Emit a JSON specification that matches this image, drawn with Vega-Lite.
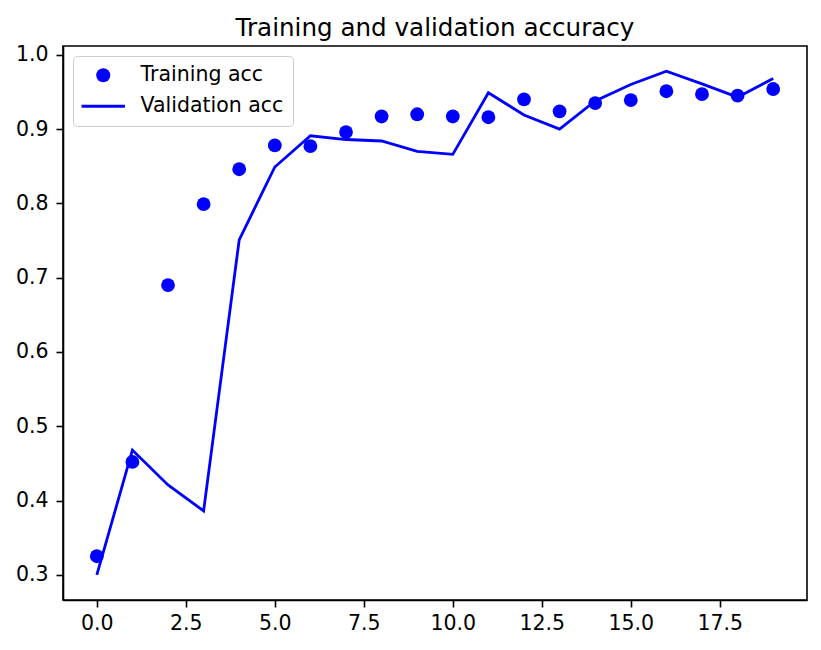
{
  "$schema": "https://vega.github.io/schema/vega-lite/v6.json",
  "width": 744,
  "height": 554,
  "autosize": {"type": "none"},
  "padding": {"left": 63, "top": 46, "right": 14, "bottom": 50},
  "background": "white",
  "title": {
    "text": "Training and validation accuracy",
    "anchor": "middle",
    "frame": "group",
    "font": "DejaVu Sans",
    "fontSize": 24.6,
    "fontWeight": "normal",
    "color": "black",
    "offset": 3
  },
  "config": {
    "view": {"stroke": "black", "strokeWidth": 1.6},
    "axis": {
      "labelFont": "DejaVu Sans",
      "labelFontSize": 20.5,
      "labelColor": "black",
      "tickColor": "black",
      "tickSize": 7,
      "tickWidth": 1.6,
      "domainColor": "black",
      "domainWidth": 1.6,
      "grid": false,
      "labelPadding": 5,
      "title": null
    }
  },
  "data": {
    "values": [
      {"epoch": 0, "acc": 0.325, "val_acc": 0.300},
      {"epoch": 1, "acc": 0.452, "val_acc": 0.468},
      {"epoch": 2, "acc": 0.690, "val_acc": 0.421},
      {"epoch": 3, "acc": 0.799, "val_acc": 0.386},
      {"epoch": 4, "acc": 0.846, "val_acc": 0.751},
      {"epoch": 5, "acc": 0.878, "val_acc": 0.849},
      {"epoch": 6, "acc": 0.877, "val_acc": 0.891},
      {"epoch": 7, "acc": 0.896, "val_acc": 0.886},
      {"epoch": 8, "acc": 0.917, "val_acc": 0.884},
      {"epoch": 9, "acc": 0.920, "val_acc": 0.870},
      {"epoch": 10, "acc": 0.917, "val_acc": 0.866},
      {"epoch": 11, "acc": 0.916, "val_acc": 0.949},
      {"epoch": 12, "acc": 0.940, "val_acc": 0.919},
      {"epoch": 13, "acc": 0.924, "val_acc": 0.900},
      {"epoch": 14, "acc": 0.935, "val_acc": 0.938},
      {"epoch": 15, "acc": 0.939, "val_acc": 0.960},
      {"epoch": 16, "acc": 0.951, "val_acc": 0.978},
      {"epoch": 17, "acc": 0.947, "val_acc": 0.961},
      {"epoch": 18, "acc": 0.945, "val_acc": 0.943},
      {"epoch": 19, "acc": 0.954, "val_acc": 0.968}
    ]
  },
  "encoding": {
    "x": {
      "field": "epoch",
      "type": "quantitative",
      "scale": {"domain": [-0.95, 19.95], "nice": false, "zero": false},
      "axis": {"values": [0, 2.5, 5, 7.5, 10, 12.5, 15, 17.5], "format": ".1f", "labelPadding": 6}
    }
  },
  "layer": [
    {
      "mark": {"type": "line", "color": "#0000ff", "strokeWidth": 2.8},
      "encoding": {
        "y": {
          "field": "val_acc",
          "type": "quantitative",
          "scale": {"domain": [0.2661, 1.0119], "nice": false, "zero": false},
          "axis": {"values": [0.3, 0.4, 0.5, 0.6, 0.7, 0.8, 0.9, 1.0], "format": ".1f", "labelPadding": 8}
        }
      }
    },
    {
      "mark": {"type": "point", "filled": true, "color": "#0000ff", "opacity": 1, "size": 190},
      "encoding": {
        "y": {"field": "acc", "type": "quantitative"},
        "shape": {
          "datum": "Training acc",
          "scale": {"domain": ["Training acc", "Validation acc"], "range": ["circle", "M-3.1,-0.2H3.1V0.2H-3.1Z"]},
          "legend": {
            "title": null,
            "orient": "none",
            "legendX": 10,
            "legendY": 10,
            "fillColor": "white",
            "strokeColor": "#cccccc",
            "cornerRadius": 4,
            "padding": 9,
            "symbolSize": 196,
            "symbolOffset": 11,
            "symbolOpacity": 1,
            "symbolFillColor": "#0000ff",
            "symbolStrokeWidth": 0,
            "labelFont": "DejaVu Sans",
            "labelFontSize": 20.5,
            "labelColor": "black",
            "labelOffset": 27,
            "rowPadding": 10,
            "encode": {
              "symbols": {
                "update": {
                  "fill": {"value": "#0000ff"},
                  "opacity": {"value": 1}
                }
              }
            }
          }
        }
      }
    }
  ]
}
